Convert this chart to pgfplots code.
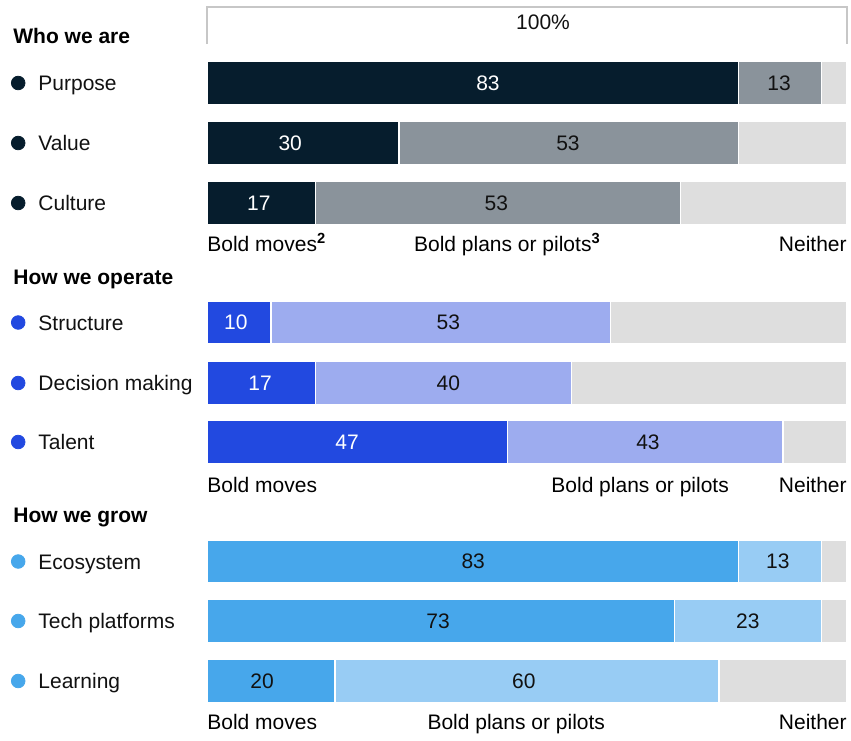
\documentclass[border=0pt]{standalone}
\usepackage{fontspec}
\setmainfont{Liberation Sans}
\usepackage{pgfplots}
\pgfplotsset{compat=1.18}
\definecolor{navy}{HTML}{061D2D}
\definecolor{slate}{HTML}{8A939B}
\definecolor{neither}{HTML}{DEDEDE}
\definecolor{blue}{HTML}{2249E0}
\definecolor{lblue}{HTML}{9DACEF}
\definecolor{cyan}{HTML}{47A7EB}
\definecolor{lcyan}{HTML}{98CCF4}
\definecolor{txt}{HTML}{111111}
\pgfplotsset{
 base/.style={x=3.2pt, y=0.5pt, y dir=reverse, xmin=-32.34375, xmax=100.625,
   ymin=0, ymax=736, hide axis, clip=false, anchor=south west, at={(0,0)}},
 grp/.style={base, xbar stacked, bar width=21.3pt, /pgf/bar shift=0pt},
 seg/.style={fill=#1, draw=white, line width=0.6pt},
 labs/.style={only marks, mark=none, nodes near coords, point meta=explicit symbolic,
   nodes near coords align={center},
   every node near coord/.append style={text=#1, font=\fontsize{10.5}{12}\selectfont}},
}
\begin{document}
\fontsize{10.5}{12}\selectfont
\begin{tikzpicture}
% Group 1: Who we are
\begin{axis}[grp]
\addplot[seg=navy] coordinates {(83,83) (30,143) (17,203)};
\addplot[seg=slate] coordinates {(13,83) (53,143) (57,203)};
\addplot[seg=neither] coordinates {(4,83) (17,143) (26,203)};
\end{axis}
% Group 2: How we operate
\begin{axis}[grp]
\addplot[seg=blue] coordinates {(10,322.5) (17,383) (47,442)};
\addplot[seg=lblue] coordinates {(53,322.5) (40,383) (43,442)};
\addplot[seg=neither] coordinates {(37,322.5) (43,383) (10,442)};
\end{axis}
% Group 3: How we grow
\begin{axis}[grp]
\addplot[seg=cyan] coordinates {(83,561.5) (73,621) (20,681)};
\addplot[seg=lcyan] coordinates {(13,561.5) (23,621) (60,681)};
\addplot[seg=neither] coordinates {(4,561.5) (4,621) (20,681)};
\end{axis}
% Annotations
\begin{axis}[base]
\path (axis cs:-32.34375,0) rectangle (axis cs:100.625,736);
\draw[color=black!22, line width=0.6pt] (axis cs:0,44) -- (axis cs:0,7) -- (axis cs:100,7) -- (axis cs:100,44);
\node[text=txt] at (axis cs:52.5,22) {100\%};
% bullets
\addplot[only marks, mark=*, mark size=3.4pt, color=navy] coordinates {(-29.5,83) (-29.5,143) (-29.5,203)};
\addplot[only marks, mark=*, mark size=3.4pt, color=blue] coordinates {(-29.5,322.5) (-29.5,383) (-29.5,442)};
\addplot[only marks, mark=*, mark size=3.4pt, color=cyan] coordinates {(-29.5,561.5) (-29.5,621) (-29.5,681)};
% value labels
\addplot[labs=white] table[meta=lab] {
x y lab
43.9 83 83
13.0 143 30
8.1 203 17
4.5 322.5 10
8.3 383 17
21.9 442 47
};
\addplot[labs=txt] table[meta=lab] {
x y lab
89.4 83 13
56.4 143 53
45.2 203 53
37.7 322.5 53
37.7 383 40
68.9 442 43
41.6 561.5 83
89.2 561.5 13
36.1 621 73
84.5 621 23
8.6 681 20
49.5 681 60
};
% headers
\node[anchor=mid west, font=\bfseries, text=black, inner xsep=0pt] at (axis cs:-30.31,38) {Who we are};
\node[anchor=mid west, font=\bfseries, text=black, inner xsep=0pt] at (axis cs:-30.31,279) {How we operate};
\node[anchor=mid west, font=\bfseries, text=black, inner xsep=0pt] at (axis cs:-30.31,517) {How we grow};
% categories
\node[anchor=mid west, text=txt, inner xsep=0pt] at (axis cs:-26.4,85) {Purpose};
\node[anchor=mid west, text=txt, inner xsep=0pt] at (axis cs:-26.4,145) {Value};
\node[anchor=mid west, text=txt, inner xsep=0pt] at (axis cs:-26.4,205) {Culture};
\node[anchor=mid west, text=txt, inner xsep=0pt] at (axis cs:-26.4,324.5) {Structure};
\node[anchor=mid west, text=txt, inner xsep=0pt] at (axis cs:-26.4,385) {Decision making};
\node[anchor=mid west, text=txt, inner xsep=0pt] at (axis cs:-26.4,444) {Talent};
\node[anchor=mid west, text=txt, inner xsep=0pt] at (axis cs:-26.4,563.5) {Ecosystem};
\node[anchor=mid west, text=txt, inner xsep=0pt] at (axis cs:-26.4,623) {Tech platforms};
\node[anchor=mid west, text=txt, inner xsep=0pt] at (axis cs:-26.4,683) {Learning};
% segment legends
\node[anchor=mid west, text=black, inner xsep=0pt] at (axis cs:0,246) {Bold moves\textsuperscript{\bfseries 2}};
\node[anchor=mid west, text=black, inner xsep=0pt] at (axis cs:32.3,246) {Bold plans or pilots\textsuperscript{\bfseries 3}};
\node[anchor=mid east, text=black, inner xsep=0pt] at (axis cs:100,246) {Neither};
\node[anchor=mid west, text=black, inner xsep=0pt] at (axis cs:0,487) {Bold moves};
\node[anchor=mid west, text=black, inner xsep=0pt] at (axis cs:53.75,487) {Bold plans or pilots};
\node[anchor=mid east, text=black, inner xsep=0pt] at (axis cs:100,487) {Neither};
\node[anchor=mid west, text=black, inner xsep=0pt] at (axis cs:0,724) {Bold moves};
\node[anchor=mid west, text=black, inner xsep=0pt] at (axis cs:34.4,724) {Bold plans or pilots};
\node[anchor=mid east, text=black, inner xsep=0pt] at (axis cs:100,724) {Neither};
\end{axis}
\end{tikzpicture}
\end{document}
